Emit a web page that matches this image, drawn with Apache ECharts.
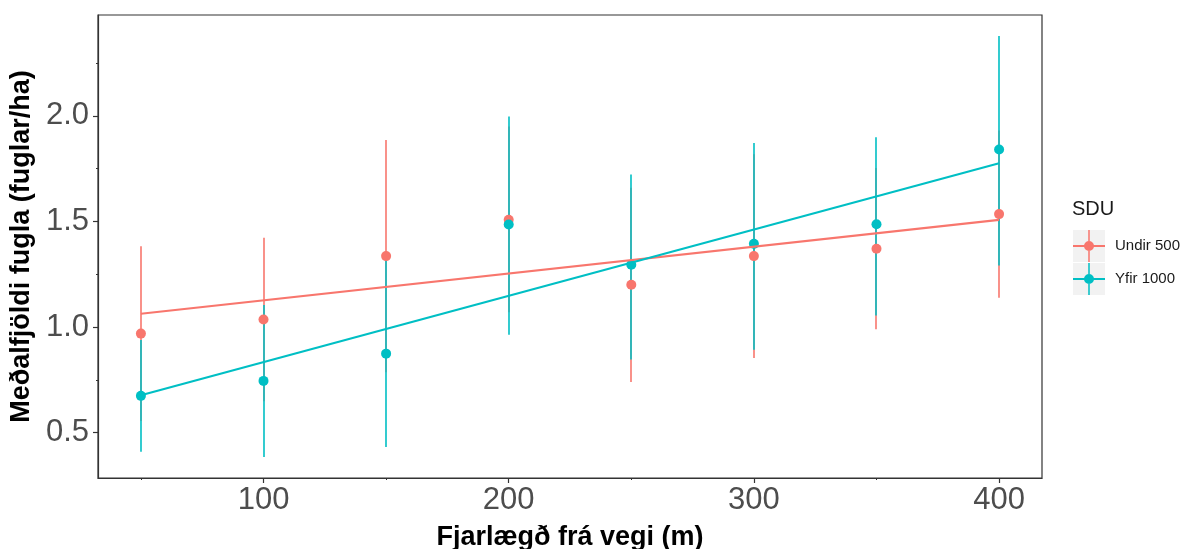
<!DOCTYPE html>
<html>
<head>
<meta charset="utf-8">
<script src="https://cdn.jsdelivr.net/npm/echarts@6/dist/echarts.min.js"></script>
<style>
  html, body { margin: 0; padding: 0; background: #ffffff; }
  #chart { width: 1193px; height: 549px; }
</style>
</head>
<body>
<div id="chart"></div>
<script>
// ---- data ----
const distance = [50, 100, 150, 200, 250, 300, 350, 400];

const undirMean = [0.969, 1.036, 1.336, 1.508, 1.200, 1.336, 1.371, 1.535];
const undirLow  = [0.555, 0.649, 0.786, 1.070, 0.740, 0.853, 0.989, 1.139];
const undirHigh = [1.383, 1.423, 1.886, 1.950, 1.660, 1.819, 1.753, 1.931];

const yfirMean = [0.674, 0.745, 0.874, 1.486, 1.295, 1.394, 1.487, 1.841];
const yfirLow  = [0.409, 0.385, 0.432, 0.964, 0.846, 0.893, 1.055, 1.292];
const yfirHigh = [0.939, 1.105, 1.316, 1.997, 1.722, 1.872, 1.899, 2.378];

// fitted trend lines (ends at 50 and 400 m)
const fitX = [50, 400];
const undirFit = [1.063, 1.508];
const yfirFit  = [0.677, 1.776];

const xMajorTicks = [100, 200, 300, 400];
const xMinorTicks = [50, 150, 250, 350];
const yMajorTicks = [0.5, 1.0, 1.5, 2.0];
const yMinorTicks = [0.75, 1.25, 1.75, 2.25];

const groupNames = ['Undir 500', 'Yfir 1000'];
const legendTitle = 'SDU';
const xTitle = 'Fjarlægð frá vegi (m)';
const yTitle = 'Meðalfjöldi fugla (fuglar/ha)';

// ---- styling ----
const RED = '#F8766D';
const TEAL = '#00BFC4';
const FONT = "'Liberation Sans', Arial, sans-serif";
const AXIS_COL = '#333333';

const X_MIN = 32.5, X_MAX = 417.5;
const Y_MIN = 0.285, Y_MAX = 2.478;

function errData(lo, hi) { return distance.map((d, i) => [d, lo[i], hi[i]]); }
function ptData(m) { return distance.map((d, i) => [d, m[i]]); }
function fitData(f) { return fitX.map((d, i) => [d, f[i]]); }

function errSeries(name, color, lo, hi) {
  return {
    type: 'custom', name: name, xAxisIndex: 0, yAxisIndex: 0,
    itemStyle: { color: color },
    data: errData(lo, hi),
    encode: { x: 0, y: [1, 2] },
    renderItem: function (params, api) {
      const x = api.value(0);
      const p1 = api.coord([x, api.value(1)]);
      const p2 = api.coord([x, api.value(2)]);
      const px = Math.round(p1[0]);
      return {
        type: 'line',
        shape: { x1: px, y1: p1[1], x2: px, y2: p2[1] },
        style: { stroke: color, lineWidth: 1.6 }
      };
    }
  };
}

const ICON = 'path://M0,15.1H32V16.9H0Z M15.25,0H16.75V32H15.25Z M11,16A5,5,0,1,1,21,16A5,5,0,1,1,11,16Z';

const option = {
  animation: false,
  backgroundColor: '#ffffff',
  title: {
    text: legendTitle, left: 1072, top: 199, padding: 0,
    textStyle: { fontSize: 20, fontWeight: 'normal', color: '#1A1A1A', fontFamily: FONT }
  },
  legend: {
    orient: 'vertical', left: 1073, top: 230, padding: 0,
    itemWidth: 32, itemHeight: 32, itemGap: 1,
    selectedMode: false,
    itemStyle: { borderWidth: 0 },
    textStyle: { fontSize: 15, color: '#1A1A1A', fontFamily: FONT, padding: [0, 0, 0, 5] },
    data: [
      { name: groupNames[0], icon: ICON, itemStyle: { color: RED } },
      { name: groupNames[1], icon: ICON, itemStyle: { color: TEAL } }
    ]
  },
  graphic: [
    { type: 'rect', left: 1073, top: 230, z: -1, shape: { width: 32, height: 32 }, style: { fill: '#F2F2F2' } },
    { type: 'rect', left: 1073, top: 263, z: -1, shape: { width: 32, height: 32 }, style: { fill: '#F2F2F2' } }
  ],
  grid: {
    left: 98, right: 151, top: 15, bottom: 71,
    outerBoundsMode: 'none', containLabel: false,
    show: true, borderColor: AXIS_COL, borderWidth: 1.2, backgroundColor: 'transparent'
  },
  xAxis: [
    {
      type: 'value', min: X_MIN, max: X_MAX,
      splitLine: { show: false },
      axisLine: { show: true, lineStyle: { color: AXIS_COL, width: 1.2 } },
      axisTick: { show: true, customValues: xMajorTicks, length: 5, lineStyle: { color: AXIS_COL, width: 1.2 } },
      axisLabel: {
        customValues: xMajorTicks, fontSize: 31, color: '#4D4D4D', fontFamily: FONT, margin: 7,
        formatter: v => String(v)
      },
      name: xTitle, nameLocation: 'middle', nameGap: 46,
      nameTextStyle: { fontSize: 27, fontWeight: 'bold', color: '#000000', fontFamily: FONT }
    },
    {
      type: 'value', min: X_MIN, max: X_MAX, position: 'bottom',
      splitLine: { show: false },
      axisLine: { show: false },
      axisTick: { show: true, customValues: xMinorTicks, length: 2, lineStyle: { color: AXIS_COL, width: 1 } },
      axisLabel: { show: false }
    }
  ],
  yAxis: [
    {
      type: 'value', min: Y_MIN, max: Y_MAX,
      splitLine: { show: false },
      axisLine: { show: true, lineStyle: { color: AXIS_COL, width: 1.2 } },
      axisTick: { show: true, customValues: yMajorTicks, length: 5, lineStyle: { color: AXIS_COL, width: 1.2 } },
      axisLabel: {
        customValues: yMajorTicks, fontSize: 31, color: '#4D4D4D', fontFamily: FONT, margin: 9,
        formatter: v => Number(v).toFixed(1)
      },
      name: yTitle, nameLocation: 'middle', nameGap: 59, nameRotate: 90,
      nameTextStyle: { fontSize: 27, fontWeight: 'bold', color: '#000000', fontFamily: FONT }
    },
    {
      type: 'value', min: Y_MIN, max: Y_MAX, position: 'left',
      splitLine: { show: false },
      axisLine: { show: false },
      axisTick: { show: true, customValues: yMinorTicks, length: 2, lineStyle: { color: AXIS_COL, width: 1 } },
      axisLabel: { show: false }
    }
  ],
  series: [
    errSeries(groupNames[0], RED, undirLow, undirHigh),
    errSeries(groupNames[1], TEAL, yfirLow, yfirHigh),
    {
      type: 'scatter', name: groupNames[0], symbol: 'circle', symbolSize: 10,
      itemStyle: { color: RED, opacity: 1 }, data: ptData(undirMean)
    },
    {
      type: 'scatter', name: groupNames[1], symbol: 'circle', symbolSize: 10,
      itemStyle: { color: TEAL, opacity: 1 }, data: ptData(yfirMean)
    },
    {
      type: 'line', name: groupNames[0], showSymbol: false, symbol: 'none',
      lineStyle: { color: RED, width: 2.2 }, itemStyle: { color: RED }, data: fitData(undirFit)
    },
    {
      type: 'line', name: groupNames[1], showSymbol: false, symbol: 'none',
      lineStyle: { color: TEAL, width: 2.2 }, itemStyle: { color: TEAL }, data: fitData(yfirFit)
    }
  ]
};

const chart = echarts.init(document.getElementById('chart'), null, { renderer: 'canvas' });
chart.setOption(option);
</script>
</body>
</html>
